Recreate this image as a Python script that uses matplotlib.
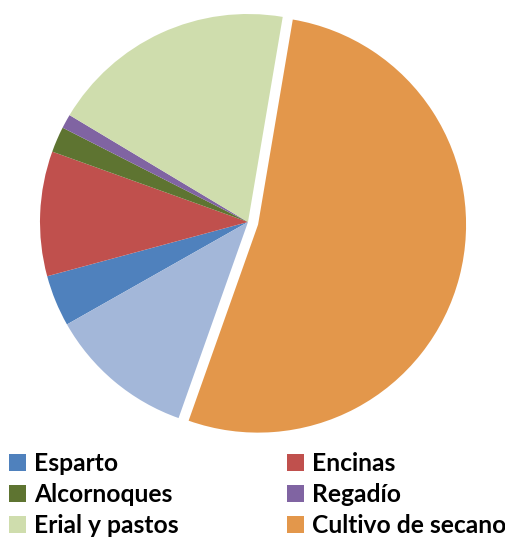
import matplotlib.pyplot as plt
from matplotlib.patches import Patch

# data (percentages), clockwise order from the Esparto slice
labels = ["Esparto", "Encinas", "Alcornoques", "Regadío", "Erial y pastos",
          "Cultivo de secano", "Otros"]
values = [4.0, 9.7, 2.0, 1.1, 19.1, 52.8, 11.4]
colors = ["#4F81BD", "#C0504D", "#5E7431", "#8064A2", "#CFDDAD",
          "#E3974B", "#A3B7D9"]
explode = [0, 0, 0, 0, 0, 0.05, 0]

fig = plt.figure(figsize=(5.05, 5.38), dpi=100)
ax = fig.add_axes([0, 0, 1, 1])
ax.pie(values, colors=colors, explode=explode, startangle=209.5,
       counterclock=False, radius=1.0,
       wedgeprops=dict(linewidth=0))
R = 208.0
ax.set_xlim(-248 / R, (505 - 248) / R)
ax.set_ylim(-(538 - 222) / R, 222 / R)
ax.set_aspect("equal")
ax.axis("off")

# legend, row by row as in the source (matplotlib fills columns)
order = [0, 2, 4, 1, 3, 5]
handles = [Patch(facecolor=colors[i], edgecolor="none") for i in order]
leg = ax.legend(handles, [labels[i] for i in order], ncol=2,
                loc="upper left", bbox_to_anchor=(0.018, 0.160),
                bbox_transform=fig.transFigure, frameon=False,
                prop=dict(family="Lato", weight="bold", size=17.7),
                handlelength=0.69, handleheight=0.69, handletextpad=0.32,
                columnspacing=4.4, labelspacing=0.33, borderpad=0,
                borderaxespad=0)

fig.savefig("out.png", dpi=100)
